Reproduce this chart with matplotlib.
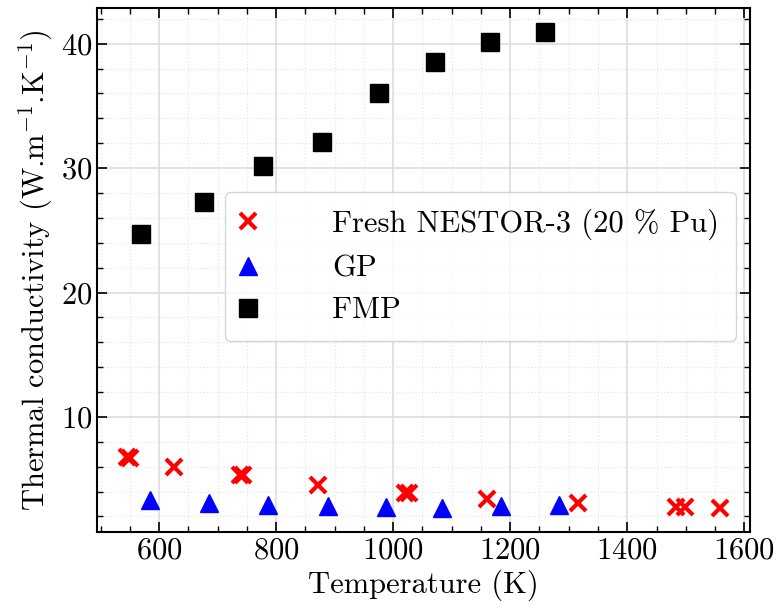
import matplotlib
matplotlib.use("Agg")
import matplotlib.pyplot as plt
from matplotlib.ticker import MultipleLocator

plt.rcParams["font.family"] = "serif"
plt.rcParams["font.serif"] = ["cmr10"]
plt.rcParams["mathtext.fontset"] = "cm"
plt.rcParams["axes.formatter.use_mathtext"] = True
plt.rcParams["font.size"] = 22

# Fresh NESTOR-3 (20 % Pu)
nestor_T = [545, 550, 626, 738, 743, 871, 1021, 1027, 1160, 1316, 1483, 1499, 1559]
nestor_k = [6.8, 6.7, 6.0, 5.3, 5.3, 4.55, 3.9, 3.85, 3.4, 3.05, 2.8, 2.8, 2.67]

# GP
gp_T = [584, 685, 786, 889, 987, 1084, 1185, 1284]
gp_k = [3.3, 3.05, 2.9, 2.82, 2.75, 2.7, 2.85, 2.95]

# FMP
fmp_T = [569, 676, 777, 878, 975, 1072, 1165, 1260]
fmp_k = [24.7, 27.3, 30.2, 32.1, 36.0, 38.5, 40.1, 40.95]

fig = plt.figure(figsize=(7.78, 6.15), dpi=100)
ax = fig.add_axes([0.125, 0.135, 0.839, 0.852])

ax.plot(nestor_T, nestor_k, "x", color="red", ms=11.5, mew=3,
        label="Fresh NESTOR-3 (20 % Pu)", zorder=3)
ax.plot(gp_T, gp_k, "^", color="blue", ms=12.5, label="GP", zorder=3)
ax.plot(fmp_T, fmp_k, "s", color="black", ms=12.5, label="FMP", zorder=3)

ax.set_xlabel("Temperature (K)")
ax.set_ylabel("Thermal conductivity (W.m$^{-1}$.K$^{-1}$)")

ax.yaxis.set_major_locator(MultipleLocator(10))
ax.yaxis.set_minor_locator(MultipleLocator(2))
ax.xaxis.set_major_locator(MultipleLocator(200))
ax.xaxis.set_minor_locator(MultipleLocator(50))
ax.tick_params(which="both", direction="in", top=True, right=True)
ax.tick_params(which="major", length=7, width=1.2)
ax.tick_params(which="minor", length=4, width=1)
for s in ax.spines.values():
    s.set_linewidth(1.5)

ax.grid(which="major", color="#dddddd", linewidth=1.2)
ax.grid(which="minor", color="#e6e6e6", linestyle=":", linewidth=0.9)
ax.set_axisbelow(True)

leg = ax.legend(loc="upper left", bbox_to_anchor=(0.196, 0.649),
                borderaxespad=0, handlelength=0.4, handletextpad=2.55,
                labelspacing=0.48, framealpha=0.8, borderpad=0.55,
                fontsize=22)
leg.get_frame().set_edgecolor("#cccccc")

fig.savefig("out.png", dpi=100)
